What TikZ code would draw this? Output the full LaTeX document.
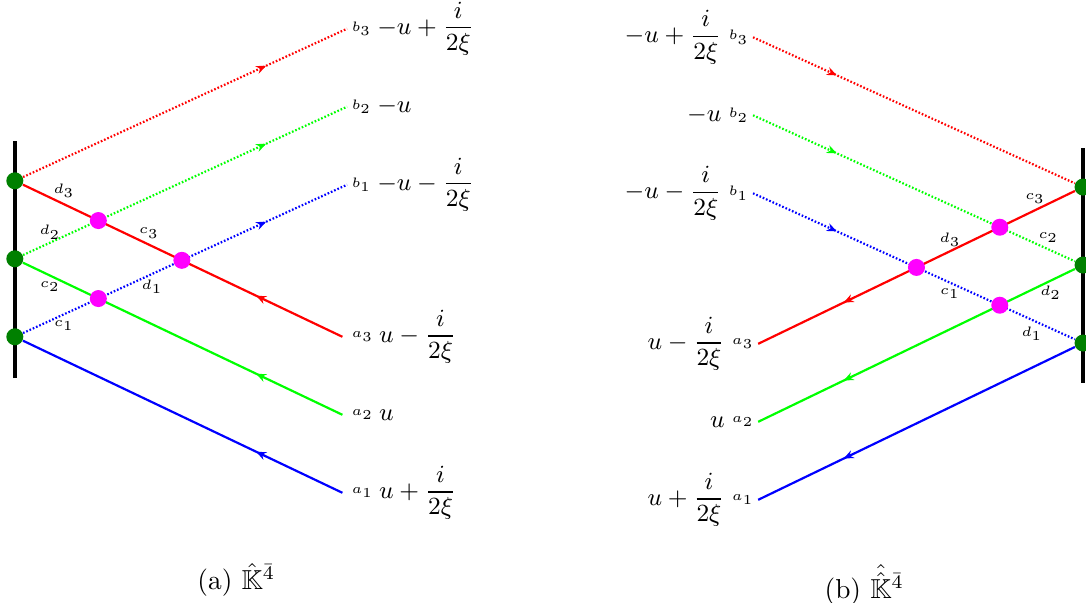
\documentclass[tikz,border=0pt]{standalone}
\usepackage{amsmath}
\usepackage{amssymb, amsfonts}
\usepackage{tikz}
\usetikzlibrary{positioning}
\usetikzlibrary{arrows.meta}
\usetikzlibrary{decorations.markings}

\definecolor{meetcol}{RGB}{255,0,255}
\definecolor{srccol}{RGB}{0,128,0}

\tikzset{
  wall/.style={ultra thick},
  src/.style={circle, fill=srccol, inner sep=0pt, minimum size=6.2pt},
  meet/.style={circle, fill=meetcol, inner sep=0pt, minimum size=6.2pt},
  leg/.style={thick},
  ghost/.style={thick, dash pattern=on 0.6pt off 0.7pt},
  flow/.style={postaction={decorate},
    decoration={markings, mark=at position #1 with {\arrow{Stealth[length=3.6pt,width=3pt]}}}},
  tag/.style={font=\tiny, inner sep=1.5pt},
  val/.style={font=\small}
}

\begin{document}
\begin{tikzpicture}
    \useasboundingbox (0,0) rectangle (13.923,7.718);

    % left picture
    \draw[wall] (0.19,2.87) -- (0.19,5.91);
    \node[src] (L1) at (0.19,3.40) {};
    \node[src] (L2) at (0.19,4.40) {};
    \node[src] (L3) at (0.19,5.40) {};
    \coordinate (La1) at (4.39,1.40);
    \coordinate (La2) at (4.39,2.40);
    \coordinate (La3) at (4.39,3.40);
    \coordinate (Lb1) at (4.45,5.35);
    \coordinate (Lb2) at (4.45,6.35);
    \coordinate (Lb3) at (4.45,7.35);
    \draw[leg, blue, flow=0.27] (La1) -- (L1);
    \draw[leg, green, flow=0.27] (La2) -- (L2);
    \draw[leg, red, flow=0.27] (La3) -- (L3);
    \draw[ghost, blue, flow=0.75] (L1) -- (Lb1);
    \draw[ghost, green, flow=0.75] (L2) -- (Lb2);
    \draw[ghost, red, flow=0.75] (L3) -- (Lb3);
    \node[meet] (LM1) at (intersection of La3--L3.center and L2.center--Lb2) {};
    \node[meet] (LM2) at (intersection of La3--L3.center and L1.center--Lb1) {};
    \node[meet] (LM3) at (intersection of La2--L2.center and L1.center--Lb1) {};
    \node[tag] (Ld3) at (0.82,5.27) {$d_3$};
    \node[tag] (Ld2) at (0.64,4.74) {$d_2$};
    \node[tag] (Lc3) at (1.91,4.73) {$c_3$};
    \node[tag] (Lc2) at (0.64,4.05) {$c_2$};
    \node[tag] (Ld1) at (1.95,4.04) {$d_1$};
    \node[tag] (Lc1) at (0.82,3.55) {$c_1$};
    \node[tag, anchor=west] (la1) at (4.45,1.40) {$a_1$};
    \node[tag, anchor=west] (la2) at (4.45,2.40) {$a_2$};
    \node[tag, anchor=west] (la3) at (4.45,3.40) {$a_3$};
    \node[tag, anchor=west] (lb1) at (Lb1) {$b_1$};
    \node[tag, anchor=west] (lb2) at (Lb2) {$b_2$};
    \node[tag, anchor=west] (lb3) at (Lb3) {$b_3$};
    \node[val, right=-3pt of la1] (lva1) {$u+\dfrac{i}{2\xi}$};
    \node[val, right=-3pt of la2] (lva2) {$u$};
    \node[val, right=-3pt of la3] (lva3) {$u-\dfrac{i}{2\xi}$};
    \node[val, right=-3pt of lb1] (lvb1) {$-u-\dfrac{i}{2\xi}$};
    \node[val, right=-3pt of lb2] (lvb2) {$-u$};
    \node[val, right=-3pt of lb3] (lvb3) {$-u+\dfrac{i}{2\xi}$};
    \node (capa) at (3.03,0.28) {(a) $\hat{\mathbb{K}}^{\bar{4}}$};

    % right picture
    \draw[wall] (13.885,2.81) -- (13.885,5.82);
    \node[src] (R1) at (13.885,3.32) {};
    \node[src] (R2) at (13.885,4.32) {};
    \node[src] (R3) at (13.885,5.32) {};
    \coordinate (Ra1) at (9.72,1.31);
    \coordinate (Ra2) at (9.72,2.31);
    \coordinate (Ra3) at (9.72,3.31);
    \coordinate (Rb1) at (9.654,5.24);
    \coordinate (Rb2) at (9.654,6.24);
    \coordinate (Rb3) at (9.654,7.24);
    \draw[leg, blue, flow=0.73] (R1) -- (Ra1);
    \draw[leg, green, flow=0.73] (R2) -- (Ra2);
    \draw[leg, red, flow=0.73] (R3) -- (Ra3);
    \draw[ghost, blue, flow=0.26] (Rb1) -- (R1);
    \draw[ghost, green, flow=0.26] (Rb2) -- (R2);
    \draw[ghost, red, flow=0.26] (Rb3) -- (R3);
    \node[meet] (RM1) at (intersection of Ra3--R3.center and R2.center--Rb2) {};
    \node[meet] (RM2) at (intersection of Ra3--R3.center and R1.center--Rb1) {};
    \node[meet] (RM3) at (intersection of Ra2--R2.center and R1.center--Rb1) {};
    \node[tag] (Rc3) at (13.27,5.17) {$c_3$};
    \node[tag] (Rd3) at (12.18,4.65) {$d_3$};
    \node[tag] (Rc2) at (13.44,4.67) {$c_2$};
    \node[tag] (Rc1) at (12.18,3.95) {$c_1$};
    \node[tag] (Rd2) at (13.47,3.96) {$d_2$};
    \node[tag] (Rd1) at (13.23,3.44) {$d_1$};
    \node[tag, anchor=east] (ra1) at (Ra1) {$a_1$};
    \node[tag, anchor=east] (ra2) at (Ra2) {$a_2$};
    \node[tag, anchor=east] (ra3) at (Ra3) {$a_3$};
    \node[tag, anchor=east] (rb1) at (Rb1) {$b_1$};
    \node[tag, anchor=east] (rb2) at (Rb2) {$b_2$};
    \node[tag, anchor=east] (rb3) at (Rb3) {$b_3$};
    \node[val, left=-2.5pt of ra1] (rva1) {$u+\dfrac{i}{2\xi}$};
    \node[val, left=-2.5pt of ra2] (rva2) {$u$};
    \node[val, left=-2.5pt of ra3] (rva3) {$u-\dfrac{i}{2\xi}$};
    \node[val, left=-2.5pt of rb1] (rvb1) {$-u-\dfrac{i}{2\xi}$};
    \node[val, left=-2.5pt of rb2] (rvb2) {$-u$};
    \node[val, left=-2.5pt of rb3] (rvb3) {$-u+\dfrac{i}{2\xi}$};
    \node (capb) at (11.08,0.22) {(b) $\hat{\hat{\mathbb{K}}}^{\bar{4}}$};
\end{tikzpicture}
\end{document}
